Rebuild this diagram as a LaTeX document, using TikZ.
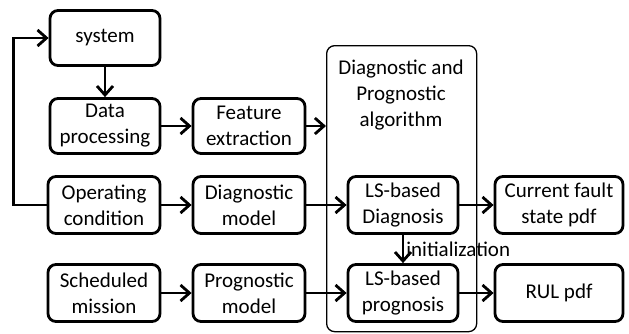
\documentclass[tikz,border=0pt]{standalone}
\usepackage{fontspec}
\setmainfont{Carlito}
\usetikzlibrary{arrows.meta}

\tikzset{
  blk/.style={draw, line width=2.8pt, rounded corners=8pt, align=center,
    minimum width=110pt, minimum height=55pt, inner sep=1pt},
  algbox/.style={draw, line width=1.3pt, rounded corners=8pt,
    minimum width=150pt, minimum height=286pt, anchor=north west},
  arr/.style={line width=2.8pt, -{Straight Barb[length=9pt,width=16pt]}}
}

\begin{document}
\begin{tikzpicture}[x=1pt,y=-1pt,font=\fontsize{21}{26}\selectfont]
            \useasboundingbox (0,0) rectangle (629,333);
            % big algorithm box
            \node[algbox] (alg) at (326,45) {};
            \node[align=center] (algtxt) at (401,95) {Diagnostic and\\Prognostic\\algorithm};
            % blocks
            \node[blk] (sys) at (105,38) {system};
            \node[blk] (dat) at (105,126) {Data\\processing};
            \node[blk, minimum width=112pt] (fea) at (249,126) {Feature\\extraction};
            \node[blk, minimum width=112pt, minimum height=57pt] (ope) at (104,205) {Operating\\condition};
            \node[blk, minimum width=112pt, minimum height=57pt] (dmo) at (249,205) {Diagnostic\\model};
            \node[blk, minimum width=112pt, minimum height=57pt] (sch) at (104,293) {Scheduled\\mission};
            \node[blk, minimum width=112pt, minimum height=57pt] (pmo) at (249,293) {Prognostic\\model};
            \node[blk, minimum height=57pt] (lsd) at (403,205) {LS-based\\Diagnosis};
            \node[blk, minimum height=57pt] (lsp) at (403,293) {LS-based\\prognosis};
            \node[blk, minimum width=128pt, minimum height=57pt] (cur) at (559,205) {Current fault\\state pdf};
            \node[blk, minimum width=128pt, minimum height=57pt] (rul) at (559,293) {RUL pdf};
            % connectors
            \draw[arr] (sys) -- (dat);
            \draw[arr] (dat) -- (fea);
            \draw[arr] (fea.east) -- (fea.east -| alg.west);
            \draw[arr] (ope) -- (dmo);
            \draw[arr] (dmo) -- (lsd);
            \draw[arr] (lsd) -- (cur);
            \draw[arr] (sch) -- (pmo);
            \draw[arr] (pmo) -- (lsp);
            \draw[arr] (lsp) -- (rul);
            \draw[arr] (lsd) -- node[right, inner sep=2pt] {initialization} (lsp);
            \draw[arr] (ope.west) -- ++(-33,0) |- (sys.west);
        \end{tikzpicture}
\end{document}
